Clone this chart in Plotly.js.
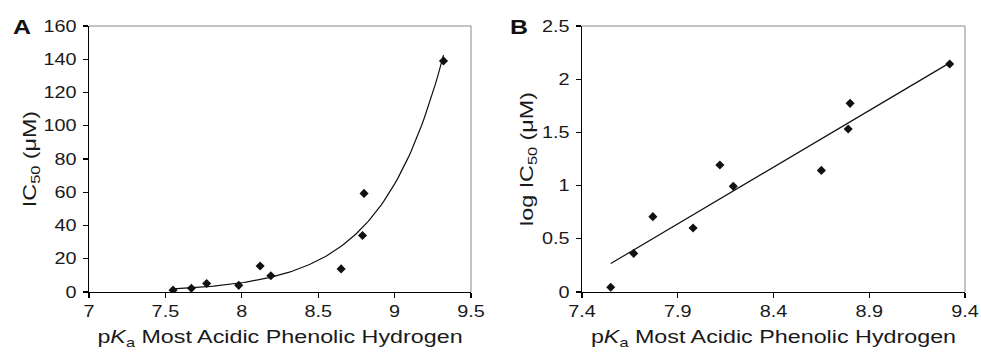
<!DOCTYPE html>
<html><head><meta charset="utf-8">
<script src="https://cdn.plot.ly/plotly-3.0.1.min.js"></script>
<style>html,body{margin:0;padding:0;background:#fff}#chart{width:981px;height:357px}</style>
</head><body><div id="chart"></div>
<script>
// pKa of most acidic phenolic hydrogen
const pKa = [7.55, 7.67, 7.77, 7.98, 8.12, 8.19, 8.65, 8.79, 8.80, 9.32];
// IC50 (µM)
const ic50 = [1.1, 2.3, 5.1, 4.0, 15.6, 9.8, 13.9, 34.0, 59.3, 139.0];
// log IC50
const logIC50 = [0.044, 0.363, 0.708, 0.601, 1.194, 0.993, 1.143, 1.532, 1.773, 2.143];

const xTicksA = [7, 7.5, 8, 8.5, 9, 9.5];
const yTicksA = [0, 20, 40, 60, 80, 100, 120, 140, 160];
const xTicksB = [7.4, 7.9, 8.4, 8.9, 9.4];
const yTicksB = [0, 0.5, 1, 1.5, 2, 2.5];

// least-squares fit of logIC50 vs pKa (trendline)
const n = pKa.length;
const mx = pKa.reduce((a,b)=>a+b,0)/n;
const my = logIC50.reduce((a,b)=>a+b,0)/n;
let sxy=0, sxx=0;
for (let i=0;i<n;i++){ sxy += (pKa[i]-mx)*(logIC50[i]-my); sxx += (pKa[i]-mx)**2; }
const slope = sxy/sxx, icpt = my - slope*mx;
const xmin = Math.min(...pKa), xmax = Math.max(...pKa);
const fitX = [], fitA = [], fitB = [];
for (let i=0;i<=100;i++){
  const x = xmin + (xmax-xmin)*i/100;
  fitX.push(x);
  fitB.push(icpt + slope*x);
  fitA.push(Math.pow(10, icpt + slope*x));
}

const txt = '#1a1a1a';
const FAM = 'Liberation Sans, Arial, sans-serif';
const mk = {symbol:'diamond', size:7, color:'#111'};

const traces = [
  {x:fitX, y:fitA, mode:'lines', line:{color:'#111', width:1.2}, xaxis:'x', yaxis:'y', hoverinfo:'skip'},
  {x:pKa, y:ic50, mode:'markers', marker:mk, xaxis:'x', yaxis:'y'},
  {x:fitX, y:fitB, mode:'lines', line:{color:'#111', width:1.2}, xaxis:'x2', yaxis:'y2', hoverinfo:'skip'},
  {x:pKa, y:logIC50, mode:'markers', marker:mk, xaxis:'x2', yaxis:'y2'}
];

function ax(extra){
  return Object.assign({
    showgrid:false, zeroline:false, showline:true, linecolor:'#000', linewidth:1.3,
    ticks:'outside', ticklen:5, tickwidth:1.2, tickcolor:'#000',
    tickfont:{family:FAM, size:16, color:txt}
  }, extra);
}
const xtitle = () => ({text:'p<i>K</i><sub>a</sub> Most Acidic Phenolic Hydrogen', font:{family:FAM, size:18.5, color:txt}, standoff:10});
const ytitle = (t) => ({text:t, font:{family:FAM, size:18.5, color:txt}, standoff:8});

const layout = {
  width:981, height:357, showlegend:false,
  paper_bgcolor:'#fff', plot_bgcolor:'#fff',
  margin:{l:0, r:0, t:26, b:65},
  font:{family:FAM, size:16, color:txt},
  xaxis: ax({domain:[89/981, 471/981], range:[7, 9.5], tickvals:xTicksA, anchor:'y', ticklabelstandoff:0, title:xtitle()}),
  yaxis: ax({domain:[0,1], range:[0,160], tickvals:yTicksA, anchor:'x', ticklabelstandoff:3, title:ytitle('IC<sub>50</sub> (μM)')}),
  xaxis2: ax({domain:[582/981, 965/981], range:[7.4, 9.4], tickvals:xTicksB, anchor:'y2', ticklabelstandoff:0, title:xtitle()}),
  yaxis2: ax({domain:[0,1], range:[0,2.5], tickvals:yTicksB, anchor:'x2', ticklabelstandoff:3, title:ytitle('log IC<sub>50</sub> (μM)')}),
  shapes: [
    {type:'line', xref:'x domain', yref:'y domain', x0:0, x1:1, y0:1, y1:1, line:{color:'#888', width:1}},
    {type:'line', xref:'x domain', yref:'y domain', x0:1, x1:1, y0:0, y1:1, line:{color:'#888', width:1}},
    {type:'line', xref:'x2 domain', yref:'y2 domain', x0:0, x1:1, y0:1, y1:1, line:{color:'#888', width:1}},
    {type:'line', xref:'x2 domain', yref:'y2 domain', x0:1, x1:1, y0:0, y1:1, line:{color:'#888', width:1}}
  ],
  annotations: [
    {text:'<b>A</b>', xref:'paper', yref:'paper', x:22/981, y:1, yshift:-1, xanchor:'center', yanchor:'middle', showarrow:false, font:{family:FAM, size:19.5, color:'#111'}},
    {text:'<b>B</b>', xref:'paper', yref:'paper', x:519/981, y:1, yshift:-1, xanchor:'center', yanchor:'middle', showarrow:false, font:{family:FAM, size:19.5, color:'#111'}}
  ]
};

// The reference typeface is wider than Arial: stretch texts along their baseline.
function stretch(el, s){
  const t = el.getAttribute('transform') || '';
  if (t.indexOf('scale(') >= 0) return;
  const bb = el.getBBox();
  const a = el.getAttribute('text-anchor') || 'start';
  const cx = a === 'middle' ? bb.x + bb.width/2 : (a === 'end' ? bb.x + bb.width : bb.x);
  el.setAttribute('transform', (t + ' translate(' + cx + ',0) scale(' + s + ',1) translate(' + (-cx) + ',0)').trim());
}
function applyStretch(){
  const gd = document.getElementById('chart');
  gd.querySelectorAll('.xtick text, .x2tick text, .ytick text, .y2tick text').forEach(e => stretch(e, 1.24));
  gd.querySelectorAll('.g-xtitle text, .g-x2title text, .g-ytitle text, .g-y2title text').forEach(e => stretch(e, 1.26));
  gd.querySelectorAll('.annotation-text').forEach(e => stretch(e, 1.28));
}
Plotly.newPlot('chart', traces, layout, {displayModeBar:false, staticPlot:true}).then(gd => {
  applyStretch();
  gd.on('plotly_afterplot', applyStretch);
  [50, 200, 600, 1200].forEach(ms => setTimeout(applyStretch, ms));
});
</script></body></html>
